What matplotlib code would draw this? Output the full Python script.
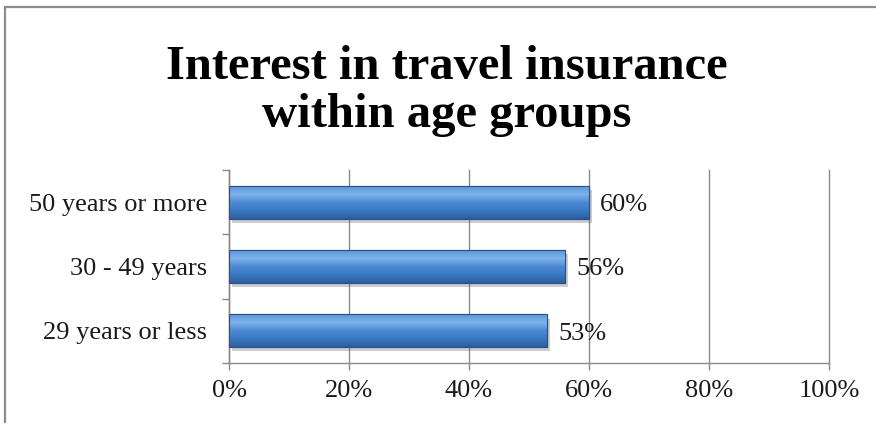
import matplotlib
matplotlib.use("Agg")
import matplotlib.pyplot as plt
import matplotlib.patheffects as pe
from matplotlib.colors import LinearSegmentedColormap
from matplotlib.patches import Rectangle
import numpy as np

groups = ["29 years or less", "30 - 49 years", "50 years or more"]
shares = [53, 56, 60]
tick_values = [0, 20, 40, 60, 80, 100]
tick_labels = ["0%", "20%", "40%", "60%", "80%", "100%"]

plt.rcParams["font.family"] = ["Liberation Serif", "DejaVu Serif"]

fig = plt.figure(figsize=(8.76, 4.23), dpi=100)
fig.patch.set_facecolor("white")

# grey frame around the chart area
fig.add_artist(Rectangle((5 / 876, -0.1), 1.2, 1.1 - 7 / 423,
                         transform=fig.transFigure, fill=False,
                         edgecolor="#8c8c8c", linewidth=1.6))

# baseline of the second title line
fig.text(447 / 876, 1 - 127 / 423, "Interest in travel insurance\nwithin age groups",
         ha="center", va="baseline", fontsize=35, fontweight="bold",
         linespacing=1.12, color="black")

ax = fig.add_axes([229 / 876, 1 - 363 / 423, 600 / 876, 193 / 423])
ax.set_xlim(0, 100)
ax.set_ylim(-0.5, len(groups) - 0.5)

ax.set_axisbelow(True)
ax.grid(axis="x", color="#8a8a8a", linewidth=1.0, clip_on=False)

bar_h = 0.51
bars = ax.barh(range(len(groups)), shares, height=bar_h, color="#3d7cc9",
               edgecolor="#23528f", linewidth=0.8, zorder=2,
               path_effects=[pe.SimplePatchShadow(offset=(2, -3), shadow_rgbFace="#707070",
                                                  alpha=0.35),
                             pe.Normal()])

# vertical shading on each bar
shade = LinearSegmentedColormap.from_list(
    "bar_shade", ["#2a5e9f", "#3a78c2", "#4a8ad6", "#7fb3ea", "#5c98dc"])
grad = np.linspace(0, 1, 64).reshape(-1, 1)
for bar in bars:
    x0, y0 = bar.get_x(), bar.get_y()
    w, h = bar.get_width(), bar.get_height()
    im = ax.imshow(grad, cmap=shade, aspect="auto", origin="lower",
                   extent=(x0, x0 + w, y0, y0 + h), zorder=2.5)
    im.set_clip_path(bar)
    ax.add_patch(Rectangle((x0, y0), w, h, fill=False, edgecolor="#23528f",
                           linewidth=0.8, zorder=3))

for i, v in enumerate(shares):
    ax.annotate(f"{v}%", (v, i), xytext=(8, -2), textcoords="offset points",
                ha="left", va="center", fontsize=19, color="#1a1a1a", zorder=4)

ax.set_xticks(tick_values)
ax.set_xticklabels(tick_labels, fontsize=19, color="#1a1a1a")
ax.tick_params(axis="x", direction="out", length=5, width=1, color="#8a8a8a", pad=7)

ax.set_yticks(range(len(groups)))
ax.set_yticklabels(groups, fontsize=19, color="#1a1a1a")
ax.set_yticks(np.arange(-0.5, len(groups)), minor=True)
ax.tick_params(axis="y", which="major", length=0, pad=16)
ax.tick_params(axis="y", which="minor", direction="out", length=5, width=1, color="#8a8a8a")

for side in ["top", "right"]:
    ax.spines[side].set_visible(False)
for side in ["left", "bottom"]:
    ax.spines[side].set_color("#8a8a8a")
    ax.spines[side].set_linewidth(1.0)

fig.savefig("out.png", dpi=100)
